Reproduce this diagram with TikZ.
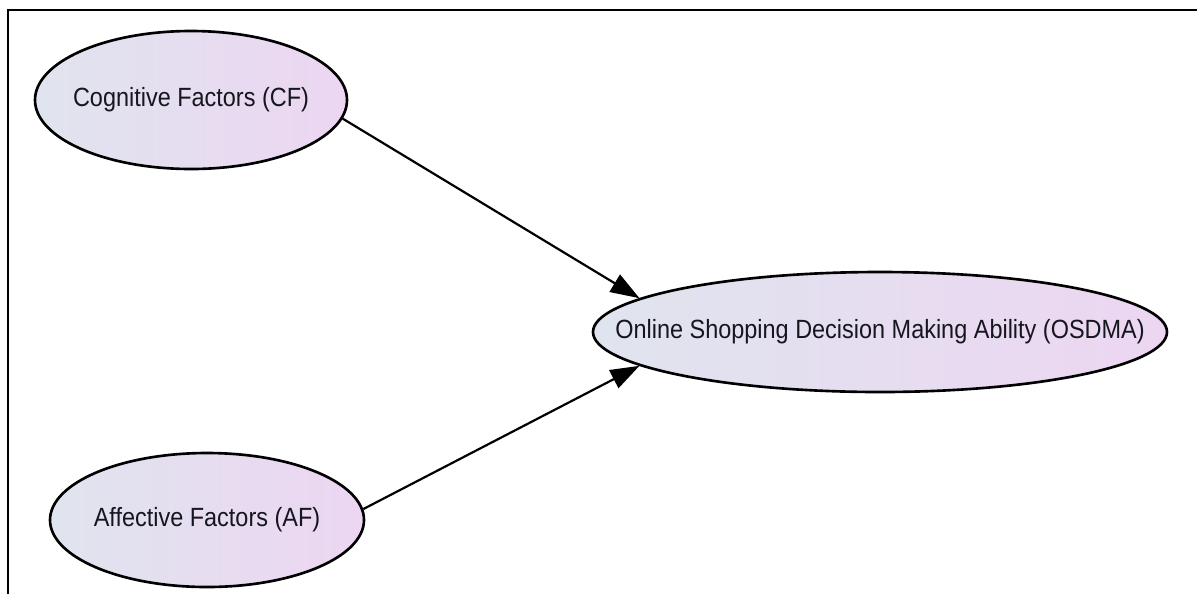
\documentclass[tikz,border=0pt]{standalone}
\usepackage{fontspec}
\setmainfont{Liberation Sans}
\newfontfamily\labelfont[FakeStretch=0.89]{Liberation Sans}
\usepackage{xcolor}
\usepackage{tikz}
\usetikzlibrary{shapes,arrows,positioning,calc,arrows.meta}

\definecolor{fillleft}{RGB}{224,228,238}
\definecolor{fillright}{RGB}{236,214,242}
\definecolor{textdark}{RGB}{22,22,30}

\begin{document}
\begin{tikzpicture}[factor node/.style={draw, ellipse, line width=1.5pt, inner sep=0pt, left color=fillleft, right color=fillright, label={[text=textdark, font=\labelfont\fontsize{15}{17}\selectfont]center:#1}}, path arrow/.style={line width=1.25pt, -{Triangle[length=0.58cm, width=0.40cm]}}]
    \useasboundingbox (0,0) rectangle (23.98,-11.88);
    % frame
    \draw[line width=1.5pt] (0.16,-11.88) -- (0.16,-0.20) -- (23.94,-0.20);

    \node[factor node={Cognitive Factors (CF)}, minimum width=6.24cm, minimum height=2.76cm] (CF) at (3.82,-2.00) {};
    \node[factor node={Affective Factors (AF)}, minimum width=6.28cm, minimum height=2.68cm] (AF) at (4.14,-10.40) {};
    \node[factor node={Online Shopping Decision Making Ability (OSDMA)}, minimum width=11.48cm, minimum height=2.40cm] (OSDMA) at (17.60,-6.64) {};

    \draw[path arrow] (CF.-7.5) -- (OSDMA.172);
    \draw[path arrow] (AF.4.4) -- (OSDMA.-172.5);
\end{tikzpicture}
\end{document}
